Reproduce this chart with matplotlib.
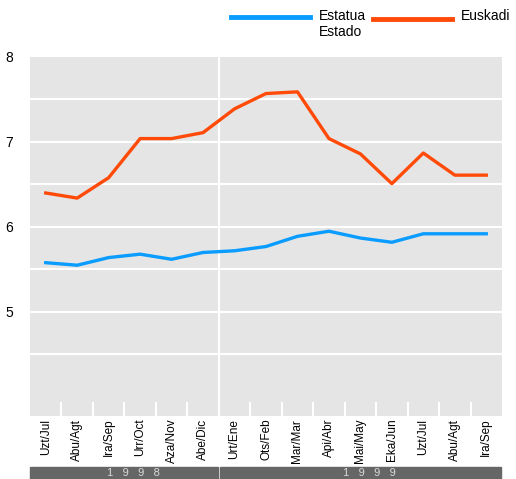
import numpy as np
import matplotlib
matplotlib.use('Agg')
from matplotlib import pyplot as plt
from matplotlib import patches
from matplotlib import transforms

plt.rcParams['font.family'] = ['Liberation Sans', 'DejaVu Sans']

# data
months = ['Uzt/Jul', 'Abu/Agt', 'Ira/Sep', 'Urr/Oct', 'Aza/Nov', 'Abe/Dic',
          'Urt/Ene', 'Ots/Feb', 'Mar/Mar', 'Api/Abr', 'Mai/May', 'Eka/Jun',
          'Uzt/Jul', 'Abu/Agt', 'Ira/Sep']
years = ['1   9   9   8', '1   9   9   9']
months_per_year = [6, 9]
estatua = [5.58, 5.55, 5.64, 5.68, 5.62, 5.70, 5.72, 5.77, 5.89, 5.95,
           5.87, 5.82, 5.92, 5.92, 5.92]
euskadi = [6.40, 6.34, 6.58, 7.04, 7.04, 7.11, 7.39, 7.57, 7.59, 7.04,
           6.86, 6.51, 6.87, 6.61, 6.61]

blue = '#0a9cff'
orange = '#ff4a08'

fig = plt.figure(figsize=(5.16, 4.79), dpi=100)
ax = fig.add_axes([30/516, 1-416/479, 472/516, 359/479])
ax.set_facecolor('#e5e5e5')
for s in ax.spines.values():
    s.set_visible(False)

x = np.arange(len(months))
ax.set_xlim(-0.5, len(months)-0.5)
ax.set_ylim(3.776, 8)

# grid
for yv in np.arange(4.5, 8, 0.5):
    ax.axhline(yv, color='white', lw=1.5, zorder=1)
ax.axvline(months_per_year[0]-0.5, color='white', lw=1.5, zorder=1)
ax.vlines(np.arange(0.5, len(months)-0.5), 3.776, 3.776+0.165, color='white', lw=1.5, zorder=1)

ax.plot(x, estatua, color=blue, lw=2.4, zorder=3)
ax.plot(x, euskadi, color=orange, lw=2.4, zorder=3)

ax.set_yticks([5, 6, 7, 8])
ax.set_yticklabels(['5', '6', '7', '8'], fontsize=10)
ax.tick_params(axis='y', length=0, pad=12)
ax.set_xticks(x)
ax.set_xticklabels(months, rotation=90, fontsize=8.5, va='top')
ax.tick_params(axis='x', length=0, pad=2)

# year bars under the labels
trans = transforms.blended_transform_factory(ax.transData, ax.transAxes)
start = -0.5
for yr, n in zip(years, months_per_year):
    x0 = start + (0.03 if start > 0 else 0)
    ax.add_patch(patches.Rectangle((x0, -0.21), start+n-x0-0.03, 0.068, transform=trans,
                                   color='#666666', clip_on=False))
    ax.text(start+n/2+0.3, -0.1435, yr, transform=trans, ha='center', va='top',
            color='#d8d8d8', fontsize=8, clip_on=False)
    start += n

# legend
fig.add_artist(plt.Line2D([231/516, 310/516], [1-17/479, 1-17/479], color=blue, lw=3.5))
fig.text(319/516, 1-9/479, 'Estatua\nEstado', fontsize=10, va='top', ha='left',
         linespacing=1.2)
fig.add_artist(plt.Line2D([373/516, 452/516], [1-19/479, 1-19/479], color=orange, lw=3.5))
fig.text(461/516, 1-9/479, 'Euskadi', fontsize=10, va='top', ha='left')

plt.savefig('out.png', dpi=100)
